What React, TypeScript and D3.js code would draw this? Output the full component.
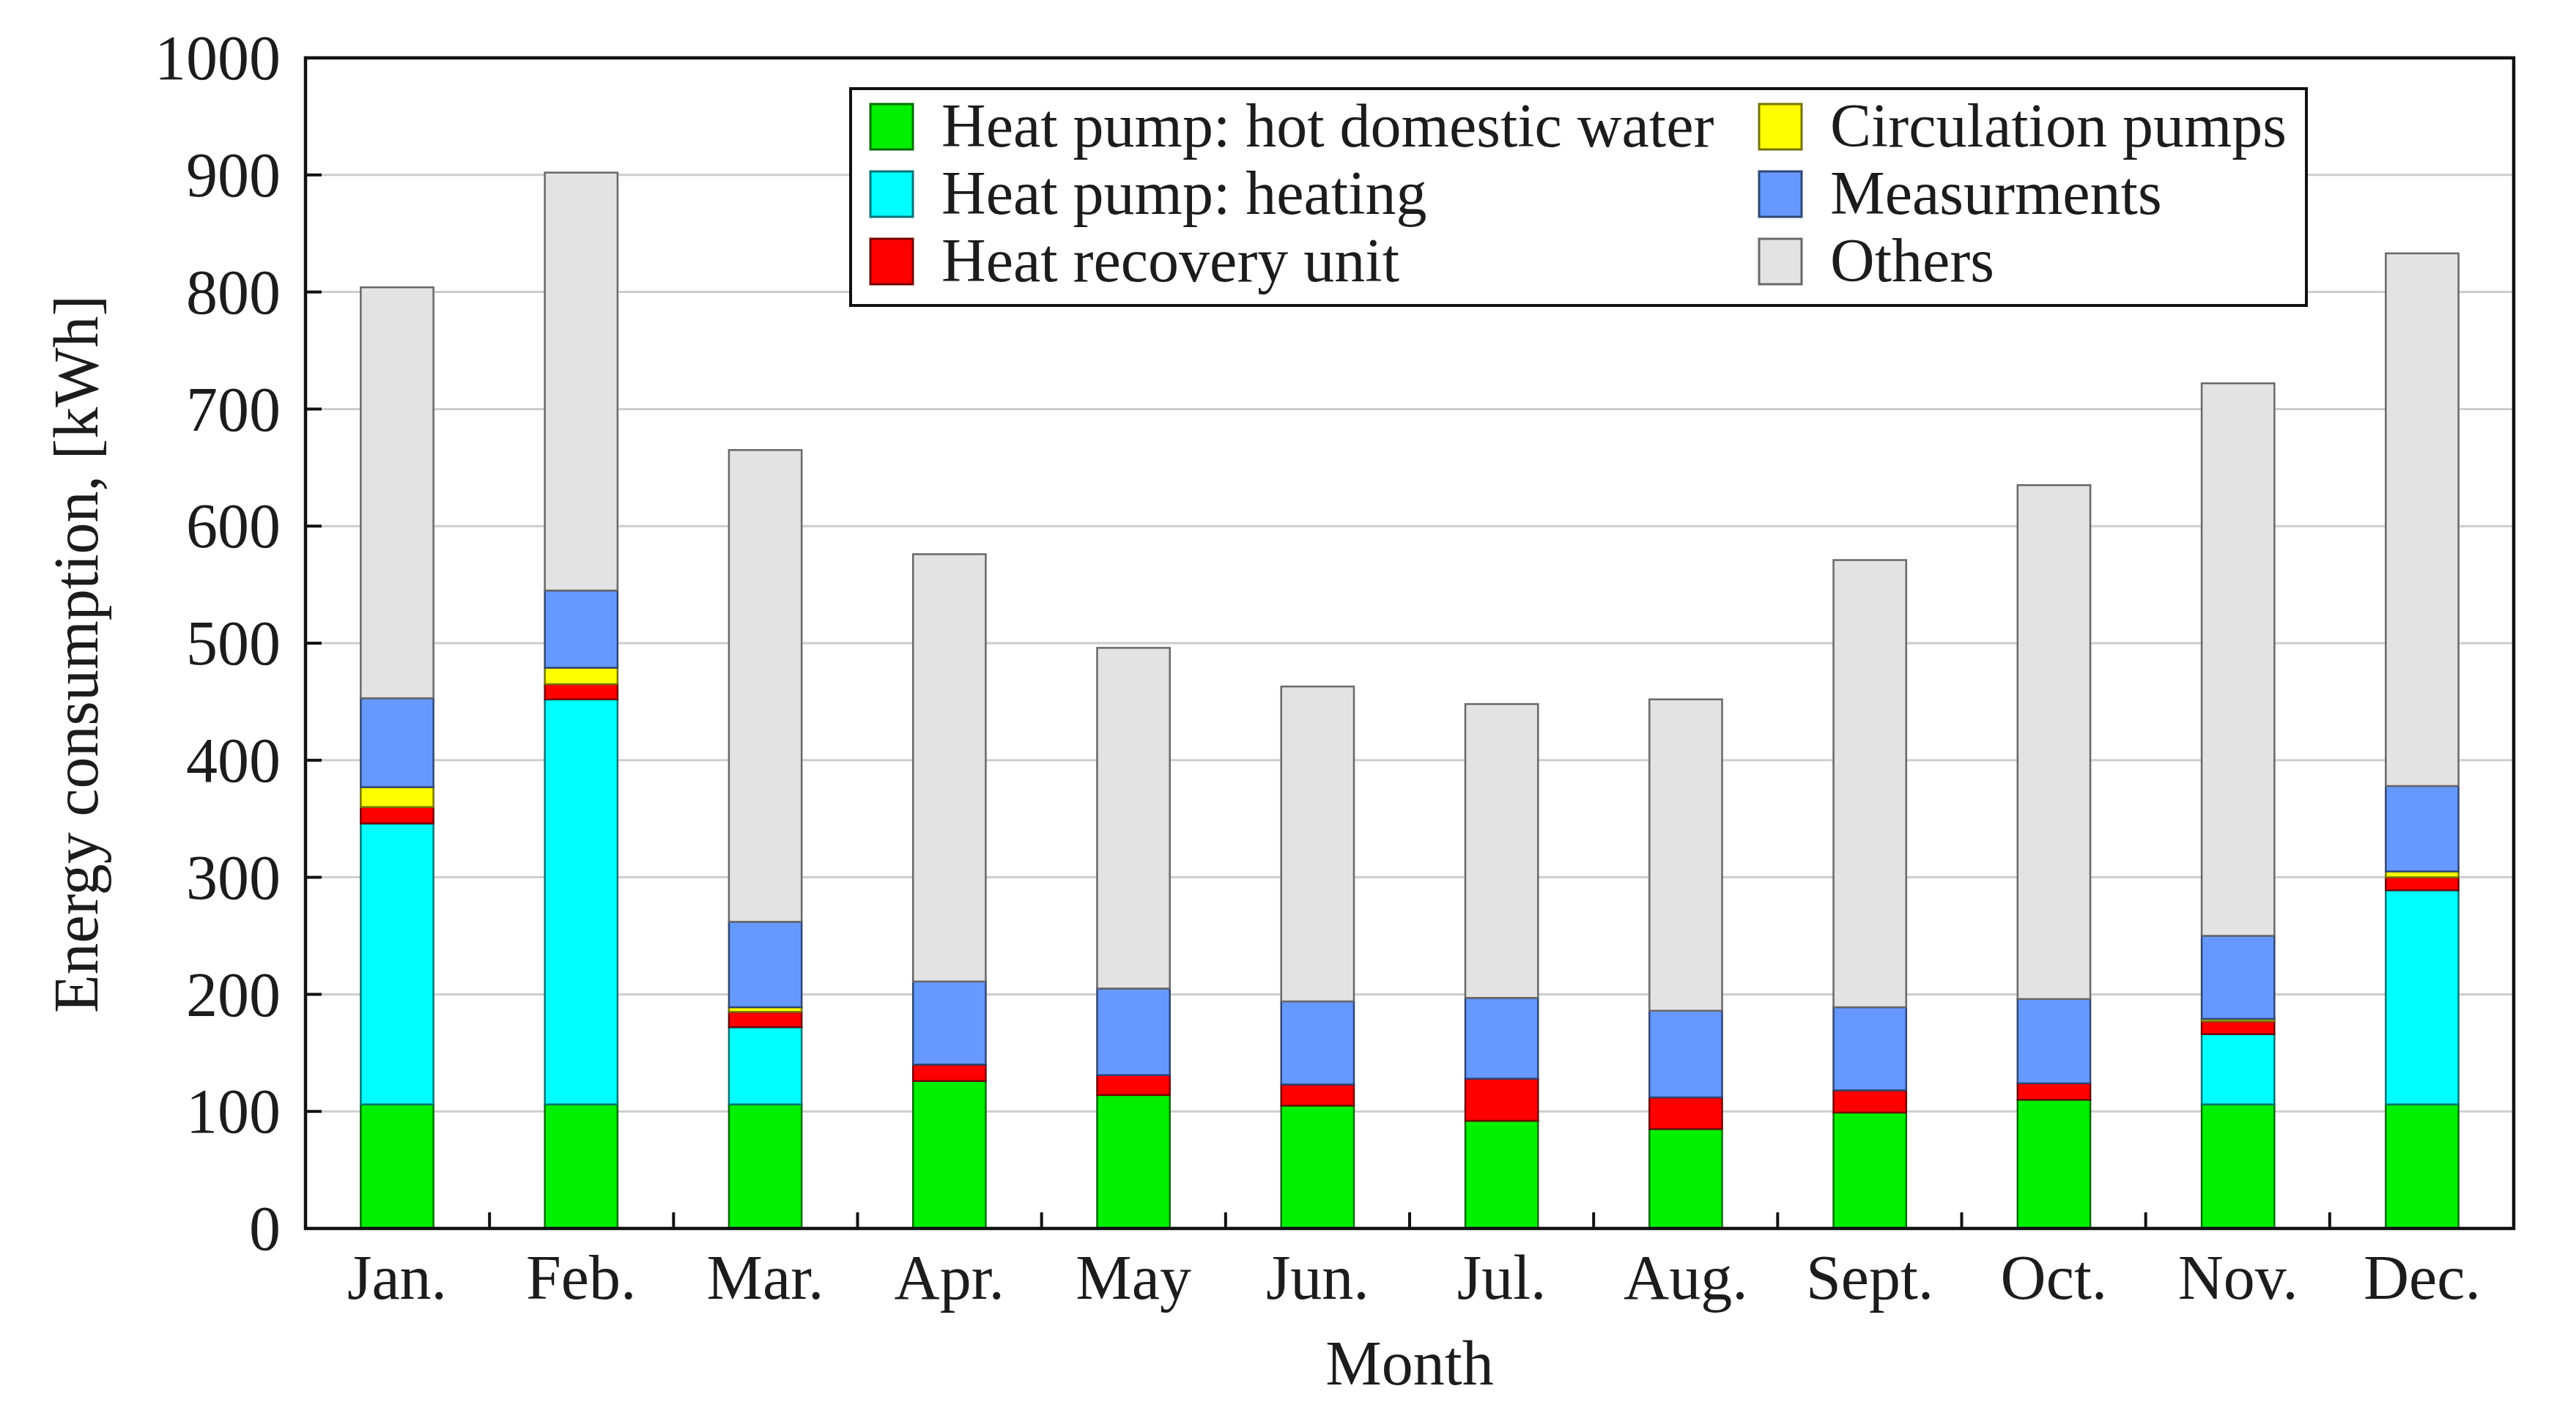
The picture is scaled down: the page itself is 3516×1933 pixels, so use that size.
import * as d3 from "d3";
import React from "react";

// monthly energy use per consumer, kWh
const months = ["Jan.", "Feb.", "Mar.", "Apr.", "May", "Jun.", "Jul.", "Aug.", "Sept.", "Oct.", "Nov.", "Dec."];
const hotWater = [106, 106, 106, 126, 114, 105, 92, 85, 99, 110, 106, 106];
const heating = [240, 346, 66, 0, 0, 0, 0, 0, 0, 0, 60, 183];
const heatRecovery = [14, 13, 13, 14, 17, 18, 36, 27, 19, 14, 11, 11];
const circulation = [17, 14, 4, 0, 0, 0, 0, 0, 0, 0, 2, 5];
const measurements = [76, 66, 73, 71, 74, 71, 69, 74, 71, 72, 71, 73];
const others = [351, 357, 403, 365, 291, 269, 251, 266, 382, 439, 472, 455];
const yTicks = [0, 100, 200, 300, 400, 500, 600, 700, 800, 900, 1000];

const series = [
  { key: "hotWater", label: "Heat pump: hot domestic water", color: "#00f000", values: hotWater },
  { key: "heating", label: "Heat pump: heating", color: "#00ffff", values: heating },
  { key: "heatRecovery", label: "Heat recovery unit", color: "#ff0000", values: heatRecovery },
  { key: "circulation", label: "Circulation pumps", color: "#ffff00", values: circulation },
  { key: "measurements", label: "Measurments", color: "#6699ff", values: measurements },
  { key: "others", label: "Others", color: "#e3e3e3", values: others },
];

const W = 3516;
const H = 1933;
const margin = { top: 79, right: 85, bottom: 256, left: 417 };
const font = "'Liberation Serif', 'DejaVu Serif', serif";
const textColor = "#1c1c1c";

export default function App() {
  const innerW = W - margin.left - margin.right;
  const innerH = H - margin.top - margin.bottom;

  const x = d3.scaleBand().domain(months).range([0, innerW]).paddingInner(0.605).paddingOuter(0.3);
  const band = innerW / months.length;
  const y = d3.scaleLinear().domain([0, 1000]).range([innerH, 0]);

  const table = months.map((m, i) => {
    const row: any = { month: m };
    series.forEach((s) => (row[s.key] = s.values[i]));
    return row;
  });
  const stacked = d3.stack().keys(series.map((s) => s.key))(table);

  // legend placement
  const lg = { x: 1161, y: 121, w: 1987, h: 296 };
  const rowGap = 92;
  const colX = [1188, 2401];

  return (
    <div style={{ position: "absolute", left: 0, top: 0 }}>
      <svg width={W} height={H} style={{ display: "block", background: "#fff" }}>
        <g transform={`translate(${margin.left},${margin.top})`}>
          {/* grid */}
          {yTicks.slice(1, -1).map((t) => (
            <line key={t} x1={0} x2={innerW} y1={y(t)} y2={y(t)} stroke="#cdcdcd" strokeWidth={3} />
          ))}

          {/* bars */}
          {stacked.map((layer, li) => {
            const c = series[li].color;
            const stroke = d3.color(c)!.darker(2.2).formatHex();
            return (
              <g key={layer.key}>
                {layer
                  .filter((d) => d[1] - d[0] > 0)
                  .map((d: any) => (
                    <rect
                      key={d.data.month}
                      x={x(d.data.month)}
                      width={x.bandwidth()}
                      y={y(d[1])}
                      height={y(d[0]) - y(d[1])}
                      fill={c}
                      stroke={stroke}
                      strokeWidth={2.5}
                    />
                  ))}
              </g>
            );
          })}

          {/* y ticks inside */}
          {yTicks.map((t) => (
            <g key={t}>
              <line x1={0} x2={22} y1={y(t)} y2={y(t)} stroke="#111" strokeWidth={4} />
              <text
                x={-34}
                y={y(t)}
                dy="0.34em"
                textAnchor="end"
                fontFamily={font}
                fontSize={86}
                fill={textColor}
              >
                {t}
              </text>
            </g>
          ))}

          {/* x ticks between months */}
          {months.slice(1).map((m, i) => (
            <line
              key={m}
              x1={(i + 1) * band}
              x2={(i + 1) * band}
              y1={innerH}
              y2={innerH - 22}
              stroke="#111"
              strokeWidth={4}
            />
          ))}
          {months.map((m) => (
            <text
              key={m}
              x={(x(m) as number) + x.bandwidth() / 2}
              y={innerH + 96}
              textAnchor="middle"
              fontFamily={font}
              fontSize={86}
              fill={textColor}
            >
              {m}
            </text>
          ))}

          {/* frame */}
          <rect x={0} y={0} width={innerW} height={innerH} fill="none" stroke="#111" strokeWidth={4.5} />

          <text
            x={innerW / 2}
            y={innerH + 213}
            textAnchor="middle"
            fontFamily={font}
            fontSize={86}
            fill={textColor}
          >
            Month
          </text>
        </g>

        <text
          transform={`translate(133,${margin.top + innerH / 2 + 15}) rotate(-90)`}
          textAnchor="middle"
          fontFamily={font}
          fontSize={86}
          fill={textColor}
        >
          Energy consumption, [kWh]
        </text>

        {/* legend */}
        <rect x={lg.x} y={lg.y} width={lg.w} height={lg.h} fill="#fff" stroke="#111" strokeWidth={4} />
        {series.map((s, i) => {
          const col = Math.floor(i / 3);
          const row = i % 3;
          const cy = lg.y + 51 + row * rowGap;
          return (
            <g key={s.key}>
              <rect
                x={colX[col]}
                y={cy - 30}
                width={58}
                height={62}
                fill={s.color}
                stroke={d3.color(s.color)!.darker(2.2).formatHex()}
                strokeWidth={3}
              />
              <text
                x={colX[col] + 97}
                y={cy}
                dy="0.33em"
                fontFamily={font}
                fontSize={84}
                fill={textColor}
              >
                {s.label}
              </text>
            </g>
          );
        })}
      </svg>
    </div>
  );
}
